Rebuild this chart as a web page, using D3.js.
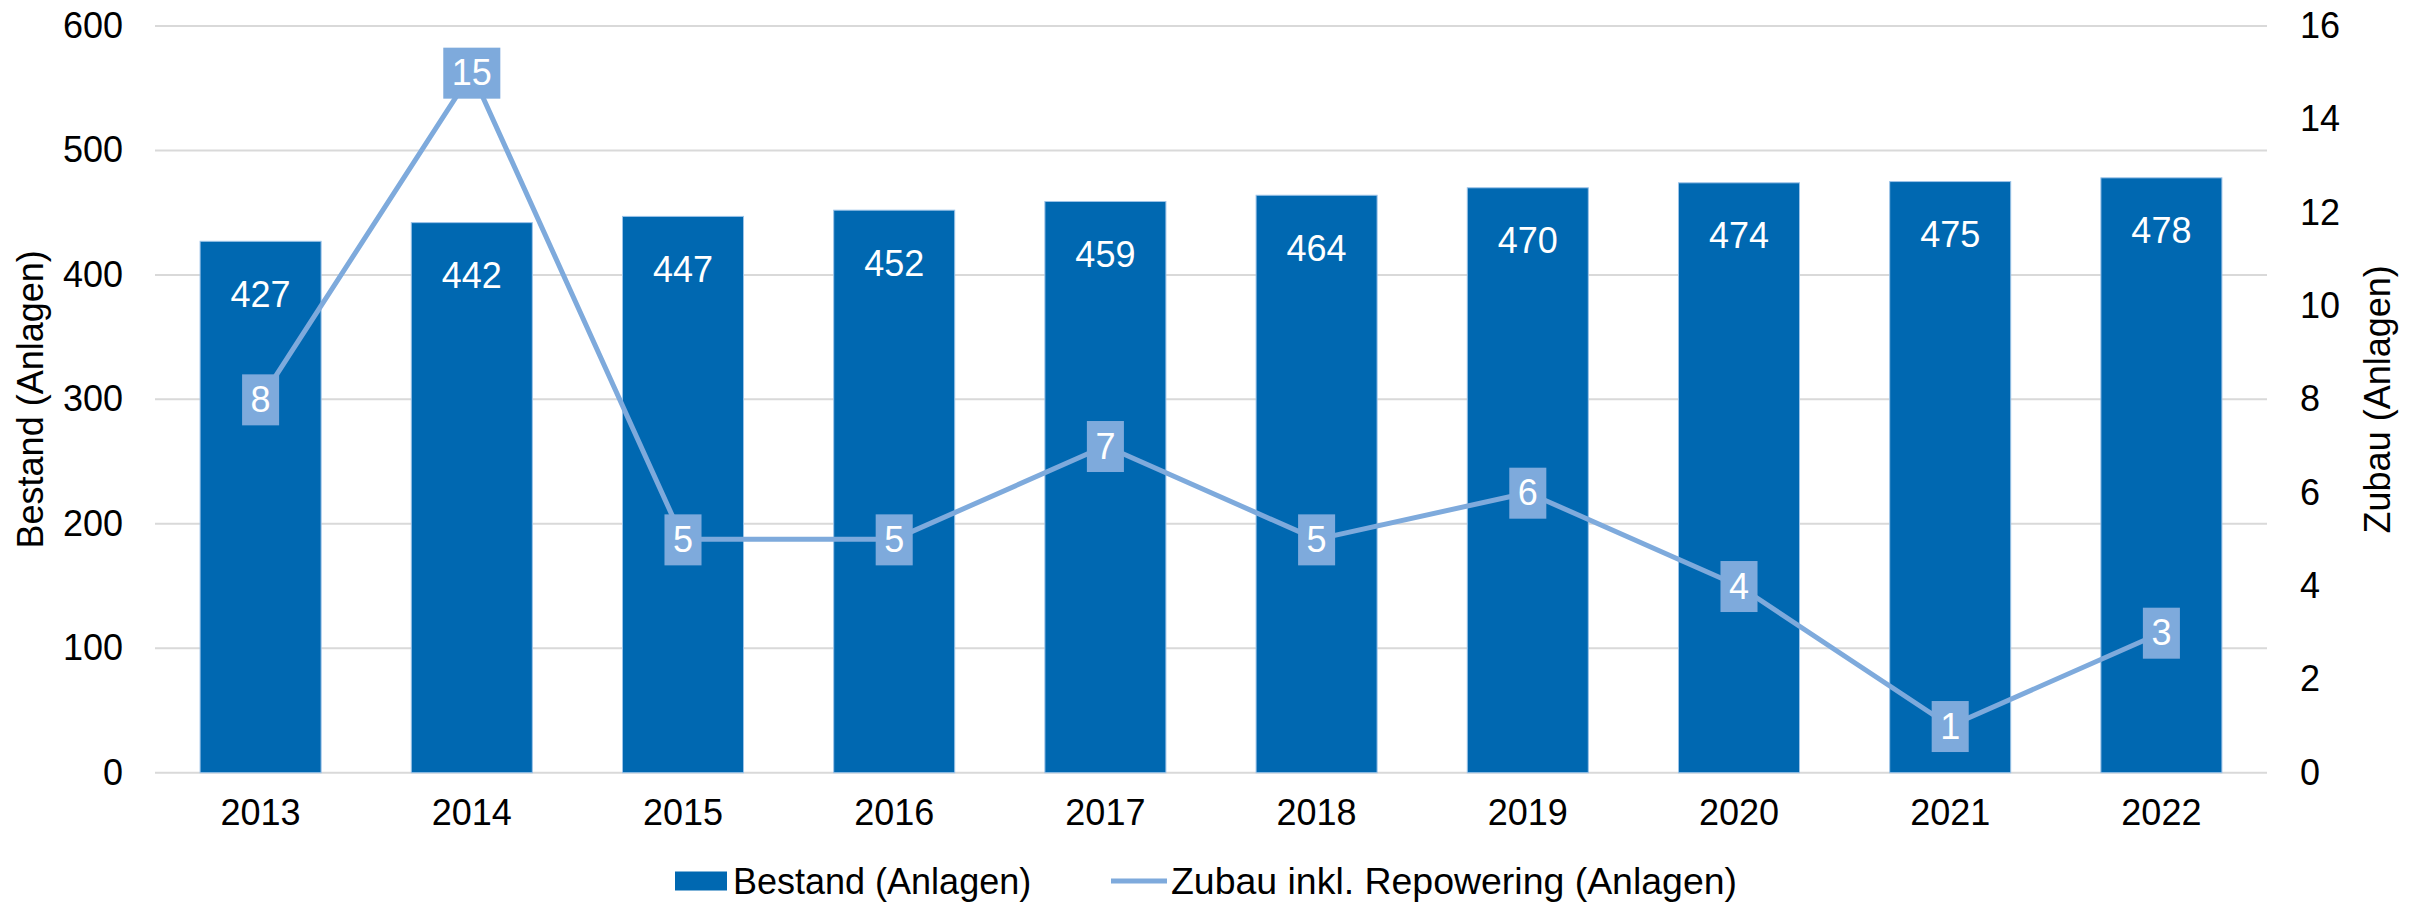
<!DOCTYPE html>
<html>
<head>
<meta charset="utf-8">
<script src="https://cdn.jsdelivr.net/npm/d3@7"></script>
<style>
  body { margin: 0; background: #fff; }
  svg { display: block; font-family: "Liberation Sans", Arial, sans-serif; }
</style>
</head>
<body>
<svg id="chart" width="2420" height="902"></svg>
<script>
const YEARS = ["2013","2014","2015","2016","2017","2018","2019","2020","2021","2022"];
const BESTAND = [427, 442, 447, 452, 459, 464, 470, 474, 475, 478];
const ZUBAU = [8, 15, 5, 5, 7, 5, 6, 4, 1, 3];
const LEFT_TICKS = [0, 100, 200, 300, 400, 500, 600];
const RIGHT_TICKS = [0, 2, 4, 6, 8, 10, 12, 14, 16];
const BAR = "#0068b1", LINE = "#7eaadc", GRID = "#d9d9d9";

const svg = d3.select("#chart");
const L = 155, R = 2267, T = 26, B = 772.7;

const x = d3.scaleBand(YEARS, [L, R]).paddingInner(0.427).paddingOuter(0.2135);
const y = d3.scaleLinear([0, 600], [B, T]);
const y2 = d3.scaleLinear([0, 16], [B, T]);

// gridlines
svg.append("g").selectAll("line").data(LEFT_TICKS).join("line")
  .attr("x1", L).attr("x2", R)
  .attr("y1", (d) => y(d)).attr("y2", (d) => y(d))
  .attr("stroke", GRID).attr("stroke-width", 2);

// axes (text only)
const axL = svg.append("g").attr("transform", `translate(${L},0)`)
  .call(d3.axisLeft(y).tickValues(LEFT_TICKS).tickSize(0).tickPadding(32));
const axR = svg.append("g").attr("transform", `translate(${R},0)`)
  .call(d3.axisRight(y2).tickValues(RIGHT_TICKS).tickSize(0).tickPadding(33));
const axB = svg.append("g").attr("transform", `translate(0,${B})`)
  .call(d3.axisBottom(x).tickSize(0).tickPadding(27));
[axL, axR, axB].forEach((g) => {
  g.select(".domain").remove();
  g.selectAll("text").attr("font-size", 36).attr("fill", "#000")
    .attr("font-family", "Liberation Sans, Arial, sans-serif");
});

// bars
svg.append("g").selectAll("rect").data(BESTAND).join("rect")
  .attr("x", (d, i) => x(YEARS[i])).attr("width", x.bandwidth())
  .attr("y", (d) => y(d)).attr("height", (d) => B - y(d))
  .attr("fill", BAR).attr("stroke", "#9cc3e8").attr("stroke-width", 1);

svg.append("g").selectAll("text").data(BESTAND).join("text")
  .attr("x", (d, i) => x(YEARS[i]) + x.bandwidth() / 2)
  .attr("y", (d) => y(d) + 53).attr("dy", "0.35em")
  .attr("text-anchor", "middle").attr("font-size", 36).attr("fill", "#fff")
  .text((d) => d);

// line
const cx = (i) => x(YEARS[i]) + x.bandwidth() / 2;
svg.append("path").datum(ZUBAU)
  .attr("d", d3.line().x((d, i) => cx(i)).y((d) => y2(d)))
  .attr("fill", "none").attr("stroke", LINE).attr("stroke-width", 5)
  .attr("stroke-linejoin", "round");

const lab = svg.append("g").selectAll("g").data(ZUBAU).join("g")
  .attr("transform", (d, i) => `translate(${cx(i)},${y2(d)})`);
lab.append("rect").attr("fill", LINE);
lab.append("text").attr("text-anchor", "middle").attr("dy", "0.35em")
  .attr("font-size", 36).attr("fill", "#fff").text((d) => d);
lab.each(function () {
  const g = d3.select(this);
  const w = g.select("text").node().getComputedTextLength() + 17;
  g.select("rect").attr("x", -w / 2).attr("y", -25).attr("width", w).attr("height", 51);
});

// axis titles
svg.append("text").attr("transform", `translate(43,${(T + B) / 2}) rotate(-90)`)
  .attr("text-anchor", "middle").attr("font-size", 36).text("Bestand (Anlagen)");
svg.append("text").attr("transform", `translate(2390,${(T + B) / 2}) rotate(-90)`)
  .attr("text-anchor", "middle").attr("font-size", 36).text("Zubau (Anlagen)");

// legend
const leg = svg.append("g").attr("transform", "translate(0,881)");
leg.append("rect").attr("x", 675).attr("y", -9.5).attr("width", 52).attr("height", 19).attr("fill", BAR);
leg.append("text").attr("x", 733).attr("dy", "0.35em").attr("font-size", 36).text("Bestand (Anlagen)");
leg.append("line").attr("x1", 1111).attr("x2", 1167).attr("stroke", LINE).attr("stroke-width", 5);
leg.append("text").attr("x", 1171).attr("dy", "0.35em").attr("font-size", 36)
  .attr("textLength", 566).attr("lengthAdjust", "spacingAndGlyphs")
  .text("Zubau inkl. Repowering (Anlagen)");
</script>
</body>
</html>
